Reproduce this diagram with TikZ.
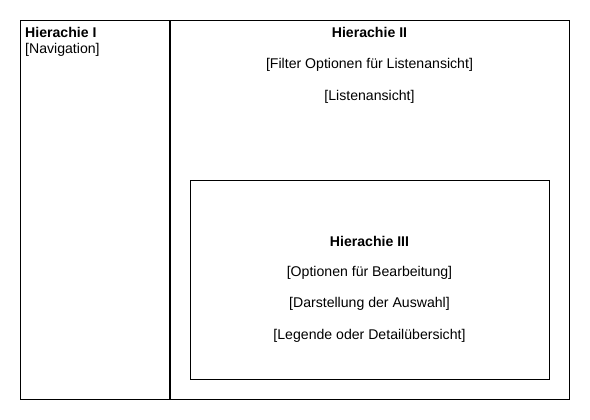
\documentclass[tikz,border=0pt]{standalone}
\usepackage{fontspec}
\setmainfont{Liberation Sans}
\begin{document}
\begin{tikzpicture}[x=1pt,y=-1pt,
  frame/.style={draw=black,line width=1pt},
  divider/.style={draw=black,line width=2pt},
  lbl/.style={inner sep=0pt,anchor=base,font=\fontsize{14.1}{16}\selectfont},
  head/.style={lbl,font=\fontsize{14.1}{16}\selectfont\bfseries}]
\useasboundingbox (0,0) rectangle (590,420);
% outer frame and column divider
\draw[frame] (20.5,20.5) rectangle (569.5,399.5);
\draw[divider] (170,20.5) -- (170,399.5);
% nested box for level III
\draw[frame] (190.5,180.5) rectangle (549.5,379.5);
% level I
\node[head,anchor=base west] (h1) at (25,37.5) {Hierachie I};
\node[lbl,anchor=base west] (nav) at (25,53.3) {[Navigation]};
% level II
\node[head] (h2) at (369.5,37.5) {Hierachie II};
\node[lbl] (filter) at (369.5,69) {[Filter Optionen für Listenansicht]};
\node[lbl] (list) at (369.5,100.7) {[Listenansicht]};
% level III
\node[head] (h3) at (369.5,246) {Hierachie III};
\node[lbl] (opt) at (369.5,276) {[Optionen für Bearbeitung]};
\node[lbl] (sel) at (369.5,307.7) {[Darstellung der Auswahl]};
\node[lbl] (leg) at (369.5,339.3) {[Legende oder Detailübersicht]};
\end{tikzpicture}
\end{document}
